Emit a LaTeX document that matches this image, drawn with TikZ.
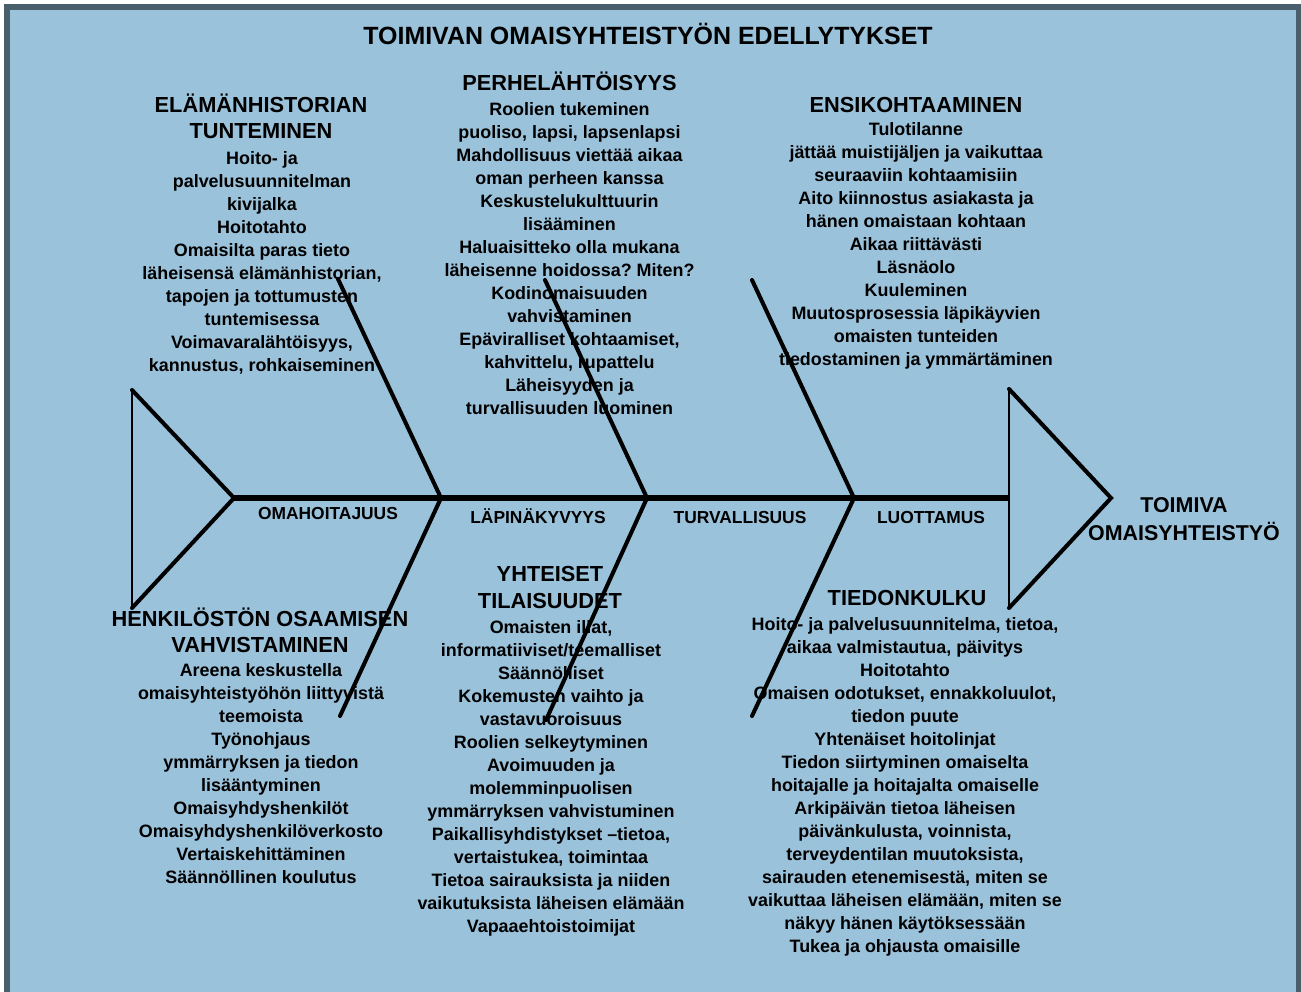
\documentclass[tikz,border=0pt]{standalone}
\usepackage{fontspec}
\setmainfont{Liberation Sans}
\frenchspacing

\definecolor{fishbg}{HTML}{9BC2DB}
\definecolor{framegray}{HTML}{4A5F6C}

\tikzset{
  bone/.style={line width=2.3pt, line cap=round},
  fin/.style={line width=1.4pt},
  heading/.style={anchor=base, inner sep=0pt, font=\bfseries\fontsize{12.4}{15.1}\selectfont},
  items/.style={anchor=base, inner sep=0pt, font=\bfseries\fontsize{10.2}{13.1}\selectfont},
  bonelabel/.style={anchor=base, inner sep=0pt, font=\bfseries\fontsize{9.9}{12}\selectfont},
}

\begin{document}
\begin{tikzpicture}[x=0.02cm, y=-0.02cm]
      \useasboundingbox (0,0) rectangle (1301,991);
      \clip (0,0) rectangle (1301,991);

      % background and frame
      \fill[fishbg] (7,7) rectangle (1299,1010);
      \draw[framegray, line width=3.4pt] (7,1010) -- (7,7) -- (1299,7) -- (1299,1010);

      \node (title) [anchor=base, inner sep=0pt, font=\bfseries\fontsize{14.2}{17}\selectfont] at (648, 44) {
        TOIMIVAN OMAISYHTEISTYÖN EDELLYTYKSET
      };

      % upper branches
      \node (elama) [heading] at (261, 112.3) {
        \begin{tabular}[t]{@{}c@{}}
          ELÄMÄNHISTORIAN \\
          TUNTEMINEN
        \end{tabular}
      };
      \node (elamaitems) [items] at (262, 164) {
        \begin{tabular}[t]{@{}c@{}}
          Hoito- ja \\
          palvelusuunnitelman \\
          kivijalka \\
          Hoitotahto \\
          Omaisilta paras tieto \\
          läheisensä elämänhistorian, \\
          tapojen ja tottumusten \\
          tuntemisessa \\
          Voimavaralähtöisyys, \\
          kannustus, rohkaiseminen
        \end{tabular}
      };

      \node (perhe) [heading] at (569.5, 90.7) {PERHELÄHTÖISYYS};
      \node (perheitems) [items] at (569.5, 115) {
        \begin{tabular}[t]{@{}c@{}}
          Roolien tukeminen \\
          puoliso, lapsi, lapsenlapsi \\
          Mahdollisuus viettää aikaa \\
          oman perheen kanssa \\
          Keskustelukulttuurin \\
          lisääminen \\
          Haluaisitteko olla mukana \\
          läheisenne hoidossa? Miten? \\
          Kodinomaisuuden \\
          vahvistaminen \\
          Epäviralliset kohtaamiset, \\
          kahvittelu, rupattelu \\
          Läheisyyden ja \\
          turvallisuuden luominen
        \end{tabular}
      };

      \node (ensi) [heading] at (916, 112.3) {ENSIKOHTAAMINEN};
      \node (ensiitems) [items] at (916, 135.7) {
        \begin{tabular}[t]{@{}c@{}}
          Tulotilanne \\
          jättää muistijäljen ja vaikuttaa \\
          seuraaviin kohtaamisiin \\
          Aito kiinnostus asiakasta ja \\
          hänen omaistaan kohtaan \\
          Aikaa riittävästi \\
          Läsnäolo \\
          Kuuleminen \\
          Muutosprosessia läpikäyvien \\
          omaisten tunteiden \\
          tiedostaminen ja ymmärtäminen
        \end{tabular}
      };

      % lower branches
      \node (henk) [heading] at (260, 626) {
        \begin{tabular}[t]{@{}c@{}}
          HENKILÖSTÖN OSAAMISEN \\
          VAHVISTAMINEN
        \end{tabular}
      };
      \node (henkitems) [items] at (261, 676.7) {
        \begin{tabular}[t]{@{}c@{}}
          Areena keskustella \\
          omaisyhteistyöhön liittyvistä \\
          teemoista \\
          Työnohjaus \\
          ymmärryksen ja tiedon \\
          lisääntyminen \\
          Omaisyhdyshenkilöt \\
          Omaisyhdyshenkilöverkosto \\
          Vertaiskehittäminen \\
          Säännöllinen koulutus
        \end{tabular}
      };

      \node (yht) [heading] at (550, 581.7) {
        \begin{tabular}[t]{@{}c@{}}
          YHTEISET \\
          TILAISUUDET
        \end{tabular}
      };
      \node (yhtitems) [items] at (551, 633.3) {
        \begin{tabular}[t]{@{}c@{}}
          Omaisten illat, \\
          informatiiviset/teemalliset \\
          Säännölliset \\
          Kokemusten vaihto ja \\
          vastavuoroisuus \\
          Roolien selkeytyminen \\
          Avoimuuden ja \\
          molemminpuolisen \\
          ymmärryksen vahvistuminen \\
          Paikallisyhdistykset –tietoa, \\
          vertaistukea, toimintaa \\
          Tietoa sairauksista ja niiden \\
          vaikutuksista läheisen elämään \\
          Vapaaehtoistoimijat
        \end{tabular}
      };

      \node (tieto) [heading] at (907, 605) {TIEDONKULKU};
      \node (tietoitems) [items] at (905, 630) {
        \begin{tabular}[t]{@{}c@{}}
          Hoito- ja palvelusuunnitelma, tietoa, \\
          aikaa valmistautua, päivitys \\
          Hoitotahto \\
          Omaisen odotukset, ennakkoluulot, \\
          tiedon puute \\
          Yhtenäiset hoitolinjat \\
          Tiedon siirtyminen omaiselta \\
          hoitajalle ja hoitajalta omaiselle \\
          Arkipäivän tietoa läheisen \\
          päivänkulusta, voinnista, \\
          terveydentilan muutoksista, \\
          sairauden etenemisestä, miten se \\
          vaikuttaa läheisen elämään, miten se \\
          näkyy hänen käytöksessään \\
          Tukea ja ohjausta omaisille
        \end{tabular}
      };

      % labels along the spine
      \node (oma) [bonelabel] at (328, 519) {OMAHOITAJUUS};
      \node (lapi) [bonelabel] at (538, 523) {LÄPINÄKYVYYS};
      \node (turva) [bonelabel] at (740, 523) {TURVALLISUUS};
      \node (luotto) [bonelabel] at (931, 523) {LUOTTAMUS};

      \node (result) [anchor=base, inner sep=0pt, font=\bfseries\fontsize{12.2}{15.9}\selectfont] at (1184, 512.5) {
        \begin{tabular}[t]{@{}c@{}}
          TOIMIVA \\
          OMAISYHTEISTYÖ
        \end{tabular}
      };

      % skeleton of the fish
      \coordinate (tailtop) at (132, 390);
      \coordinate (tailbot) at (132, 608);
      \coordinate (tail) at (234, 498);
      \coordinate (headtop) at (1009, 389);
      \coordinate (headbot) at (1009, 608);
      \coordinate (headback) at (1009, 498);
      \coordinate (head) at (1111, 498);
      \coordinate (j1) at (441, 498);
      \coordinate (j2) at (647, 498);
      \coordinate (j3) at (854, 498);
      \coordinate (t1) at (338, 279);
      \coordinate (t2) at (545, 280);
      \coordinate (t3) at (752, 280);
      \coordinate (b1) at (340, 716);
      \coordinate (b2) at (546, 720);
      \coordinate (b3) at (752, 716);

      \draw[line width=3.4pt] (tail) -- (headback);
      \draw[fin] (tailtop) -- (tailbot);
      \draw[bone] (tailtop) -- (tail) -- (tailbot);
      \draw[fin] (headtop) -- (headbot);
      \draw[bone] (headtop) -- (head) -- (headbot);

      \draw[bone] (t1) -- (j1) -- (b1);
      \draw[bone] (t2) -- (j2) -- (b2);
      \draw[bone] (t3) -- (j3) -- (b3);
    \end{tikzpicture}
\end{document}
